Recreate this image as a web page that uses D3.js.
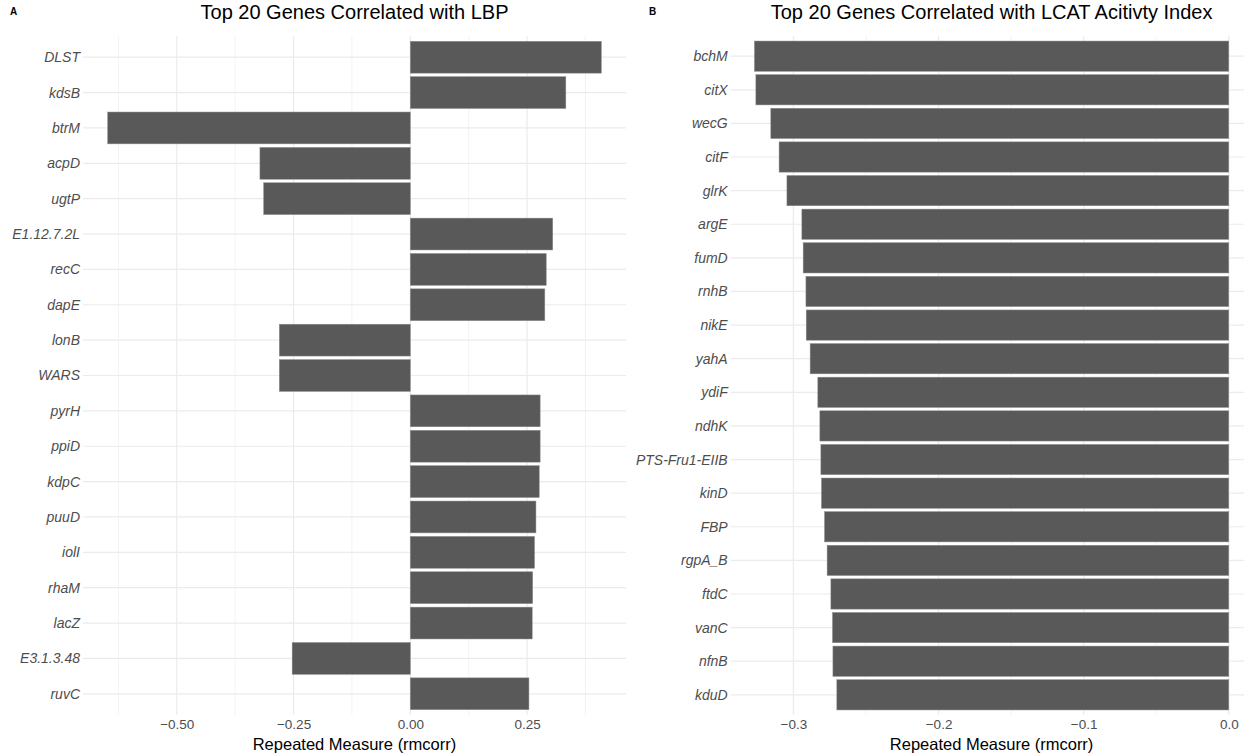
<!DOCTYPE html>
<html>
<head>
<meta charset="utf-8">
<script src="https://cdn.jsdelivr.net/npm/d3@7"></script>
<style>
  html, body { margin: 0; padding: 0; background: #fff; }
  svg { display: block; font-family: "Liberation Sans", Arial, sans-serif; }
</style>
</head>
<body>
<svg id="chart" width="1244" height="753"></svg>
<script>
// Panel A: genes correlated with LBP (top to bottom)
const lbpGenes = ["DLST", "kdsB", "btrM", "acpD", "ugtP", "E1.12.7.2L", "recC", "dapE",
  "lonB", "WARS", "pyrH", "ppiD", "kdpC", "puuD", "iolI", "rhaM", "lacZ", "E3.1.3.48", "ruvC"];
const lbpValues = [0.409, 0.333, -0.648, -0.322, -0.314, 0.305, 0.291, 0.288,
  -0.2805, -0.2805, 0.278, 0.278, 0.276, 0.269, 0.266, 0.262, 0.261, -0.253, 0.254];
const lbpTicks = [-0.5, -0.25, 0, 0.25];
const lbpMinor = [-0.625, -0.375, -0.125, 0.125, 0.375];

// Panel B: genes correlated with LCAT activity index (top to bottom)
const lcatGenes = ["bchM", "citX", "wecG", "citF", "glrK", "argE", "fumD", "rnhB", "nikE",
  "yahA", "ydiF", "ndhK", "PTS-Fru1-EIIB", "kinD", "FBP", "rgpA_B", "ftdC", "vanC", "nfnB", "kduD"];
const lcatValues = [-0.3269, -0.3259, -0.3156, -0.3099, -0.3045, -0.2942, -0.2933, -0.2914, -0.2912,
  -0.2885, -0.2832, -0.2818, -0.2811, -0.2807, -0.2786, -0.2768, -0.2742, -0.2731, -0.2728, -0.2701];
const lcatTicks = [-0.3, -0.2, -0.1, 0.0];
const lcatMinor = [-0.25, -0.15, -0.05];

const svg = d3.select("#chart");
const gridColor = "#ebebeb";
const textColor = "#4d4d4d";
const barFill = "#595959";

function panel(opts) {
  const { genes, values, ticks, minor, fmt, left, right, top, bottom, title, letter, letterX } = opts;
  const lo = Math.min(0, d3.min(values)), hi = Math.max(0, d3.max(values));
  const pad = (hi - lo) * 0.05;
  const x = d3.scaleLinear().domain([lo - pad, hi + pad]).range([left, right]);
  const y = d3.scalePoint().domain(genes).range([top, bottom]).padding(0.6);
  const bh = y.step() * 0.9;
  const g = svg.append("g");

  // minor vertical grid
  g.selectAll(".minor").data(minor.filter(v => v >= x.domain()[0] && v <= x.domain()[1]))
    .join("line")
    .attr("x1", d => x(d)).attr("x2", d => x(d))
    .attr("y1", top).attr("y2", bottom)
    .attr("stroke", gridColor).attr("stroke-width", 0.6);
  // major vertical grid
  g.selectAll(".major").data(ticks)
    .join("line")
    .attr("x1", d => x(d)).attr("x2", d => x(d))
    .attr("y1", top).attr("y2", bottom)
    .attr("stroke", gridColor).attr("stroke-width", 1.2);
  // horizontal grid per gene
  g.selectAll(".hgrid").data(genes)
    .join("line")
    .attr("x1", left).attr("x2", right)
    .attr("y1", d => y(d)).attr("y2", d => y(d))
    .attr("stroke", gridColor).attr("stroke-width", 1.2);

  // bars
  g.selectAll(".bar").data(genes.map((k, i) => ({ k, v: values[i] })))
    .join("rect")
    .attr("x", d => x(Math.min(0, d.v)))
    .attr("width", d => Math.abs(x(d.v) - x(0)))
    .attr("y", d => y(d.k) - bh / 2)
    .attr("height", bh)
    .attr("fill", barFill)
    .attr("stroke", "#8c8c8c").attr("stroke-width", 0.5);

  // gene labels
  const yAxis = d3.axisLeft(y).tickSize(0).tickPadding(3);
  const ya = g.append("g").attr("transform", `translate(${left},0)`).call(yAxis);
  ya.select(".domain").remove();
  ya.selectAll("text").attr("fill", textColor).attr("font-size", 14)
    .attr("font-style", "italic").attr("font-family", "Liberation Sans, Arial, sans-serif");

  // x tick labels
  const xAxis = d3.axisBottom(x).tickValues(ticks).tickFormat(fmt).tickSize(0).tickPadding(4);
  const xa = g.append("g").attr("transform", `translate(0,${bottom})`).call(xAxis);
  xa.select(".domain").remove();
  xa.selectAll("text").attr("fill", textColor).attr("font-size", 13.5)
    .attr("font-family", "Liberation Sans, Arial, sans-serif");

  const cx = (left + right) / 2;
  g.append("text").attr("x", cx).attr("y", 750).attr("text-anchor", "middle")
    .attr("font-size", 16.5).attr("fill", "#000").text("Repeated Measure (rmcorr)");
  g.append("text").attr("x", cx).attr("y", 19).attr("text-anchor", "middle")
    .attr("font-size", 20).attr("fill", "#000").text(title);
  g.append("text").attr("x", letterX).attr("y", 15).attr("font-size", 10)
    .attr("font-weight", "bold").attr("fill", "#000").text(letter);
}

panel({
  genes: lbpGenes, values: lbpValues, ticks: lbpTicks, minor: lbpMinor,
  fmt: d3.format(".2f"), left: 83, right: 626, top: 36, bottom: 715,
  title: "Top 20 Genes Correlated with LBP", letter: "A", letterX: 10
});
panel({
  genes: lcatGenes, values: lcatValues, ticks: lcatTicks, minor: lcatMinor,
  fmt: d3.format(".1f"), left: 730.7, right: 1252.5, top: 36, bottom: 715,
  title: "Top 20 Genes Correlated with LCAT Acitivty Index", letter: "B", letterX: 649
});
</script>
</body>
</html>
